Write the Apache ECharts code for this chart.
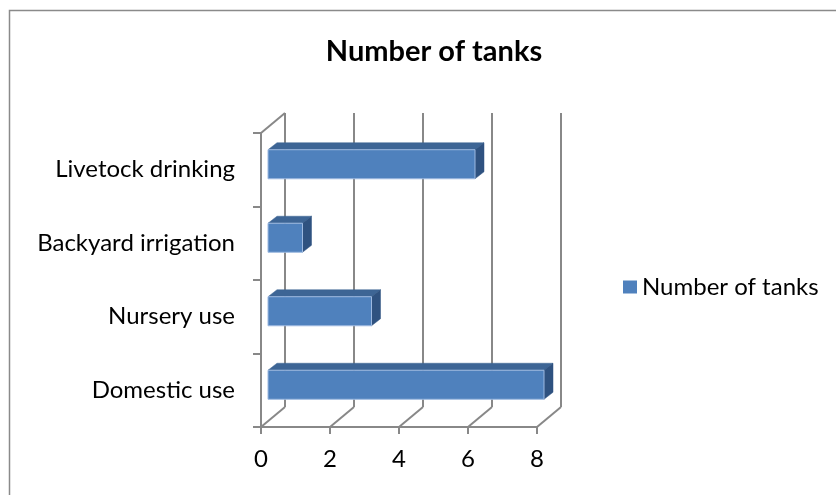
<!DOCTYPE html>
<html>
<head>
<meta charset="utf-8">
<script src="https://cdn.jsdelivr.net/npm/echarts@6/dist/echarts.min.js"></script>
<style>
  html, body { margin: 0; padding: 0; background: #fff; }
  #main { width: 836px; height: 495px; }
</style>
</head>
<body>
<div id="main"></div>
<script>
  // data (bottom to top, like the category axis)
  var categories = ['Domestic use', 'Nursery use', 'Backyard irrigation', 'Livetock drinking'];
  var tanks = [8, 3, 1, 6];
  var xTicks = [0, 2, 4, 6, 8];
  var seriesName = 'Number of tanks';

  var chart = echarts.init(document.getElementById('main'));

  var FONT = 'Lato';
  var GRAY = '#888888';
  // depth of the 3d box and of the bars
  var DEPTH_X = 24, DEPTH_Y = -20;

  function barItem(params, api) {
    var cat = api.value(1);
    var start = api.coord([0, cat]);
    var end = api.coord([api.value(0), cat]);
    var band = api.size([0, 1])[1];
    var h = band * 0.395;
    var x0 = start[0] + 7, x1 = end[0] + 7;
    var yc = start[1] - 5.5;
    var yt = yc - h / 2, yb = yc + h / 2;
    var dx = 9, dy = -7;
    return {
      type: 'group',
      children: [{
        type: 'polygon',
        shape: { points: [[x0, yt], [x1, yt], [x1 + dx, yt + dy], [x0 + dx, yt + dy]] },
        style: { fill: '#3D6595', stroke: '#3D6595', lineWidth: 0.5 }
      }, {
        type: 'polygon',
        shape: { points: [[x1, yt], [x1, yb], [x1 + dx, yb + dy], [x1 + dx, yt + dy]] },
        style: { fill: '#2F5280', stroke: '#2F5280', lineWidth: 0.5 }
      }, {
        type: 'rect',
        shape: { x: x0, y: yt, width: x1 - x0, height: h },
        style: { fill: '#4F81BD', stroke: '#9DB9E0', lineWidth: 1 }
      }]
    };
  }

  function frameItem(params, api) {
    var cs = params.coordSys;
    var p = api.coord([api.value(0), 0]);
    var yb = cs.y + cs.height;
    var children = [{
      type: 'line',
      shape: { x1: p[0], y1: yb, x2: p[0] + DEPTH_X, y2: yb + DEPTH_Y },
      style: { stroke: GRAY, lineWidth: 2 }
    }];
    if (params.dataIndex === 0) {
      children.push({
        type: 'line',
        shape: { x1: p[0], y1: cs.y, x2: p[0] + DEPTH_X, y2: cs.y + DEPTH_Y },
        style: { stroke: GRAY, lineWidth: 2 }
      });
    }
    return { type: 'group', children: children };
  }

  var option = {
    backgroundColor: '#ffffff',
    animation: false,
    title: {
      text: 'Number of tanks',
      left: 429,
      top: 32,
      textAlign: 'center',
      textStyle: { fontFamily: FONT, fontSize: 29, fontWeight: 'bold', color: '#000' }
    },
    legend: {
      data: [seriesName],
      left: 618,
      top: 270,
      icon: 'rect',
      itemWidth: 14,
      itemHeight: 13,
      itemGap: 5,
      textStyle: { fontFamily: FONT, fontSize: 24, color: '#000' }
    },
    graphic: [{
      type: 'rect',
      shape: { x: 9.5, y: 10.5, width: 900, height: 600 },
      style: { fill: 'none', stroke: '#8a8a8a', lineWidth: 1.5 },
      silent: true
    }],
    grid: [
      // front of the box: axes and labels
      { left: 261, top: 133, width: 276, height: 294 },
      // back wall: vertical grid lines
      { left: 285, top: 113, width: 276, height: 294 }
    ],
    xAxis: [{
      gridIndex: 0,
      type: 'value',
      min: 0,
      max: 8,
      interval: 2,
      axisLine: { show: true, lineStyle: { color: GRAY, width: 2 } },
      axisTick: { show: true, length: 7, lineStyle: { color: GRAY, width: 2 } },
      axisLabel: { margin: 20, fontFamily: FONT, fontSize: 24, color: '#000' },
      splitLine: { show: false }
    }, {
      gridIndex: 1,
      type: 'value',
      min: 0,
      max: 8,
      interval: 2,
      axisLine: { show: false },
      axisTick: { show: false },
      axisLabel: { show: false },
      splitLine: { show: true, lineStyle: { color: GRAY, width: 2 } }
    }],
    yAxis: [{
      gridIndex: 0,
      type: 'category',
      data: categories,
      axisLine: { show: true, lineStyle: { color: GRAY, width: 2 } },
      axisTick: { show: true, length: 8, lineStyle: { color: GRAY, width: 2 } },
      axisLabel: { margin: 26, fontFamily: FONT, fontSize: 24, color: '#000' }
    }, {
      gridIndex: 1,
      type: 'category',
      data: categories,
      show: false
    }],
    series: [{
      name: 'frame',
      type: 'custom',
      xAxisIndex: 0,
      yAxisIndex: 0,
      silent: true,
      renderItem: frameItem,
      data: xTicks.map(function (v) { return [v]; }),
      encode: { x: 0 },
      z: 1
    }, {
      name: seriesName,
      type: 'custom',
      xAxisIndex: 0,
      yAxisIndex: 0,
      itemStyle: { color: '#4F81BD' },
      renderItem: barItem,
      data: tanks.map(function (v, i) { return [v, i]; }),
      encode: { x: 0, y: 1 },
      z: 3
    }]
  };

  chart.setOption(option);
</script>
</body>
</html>
